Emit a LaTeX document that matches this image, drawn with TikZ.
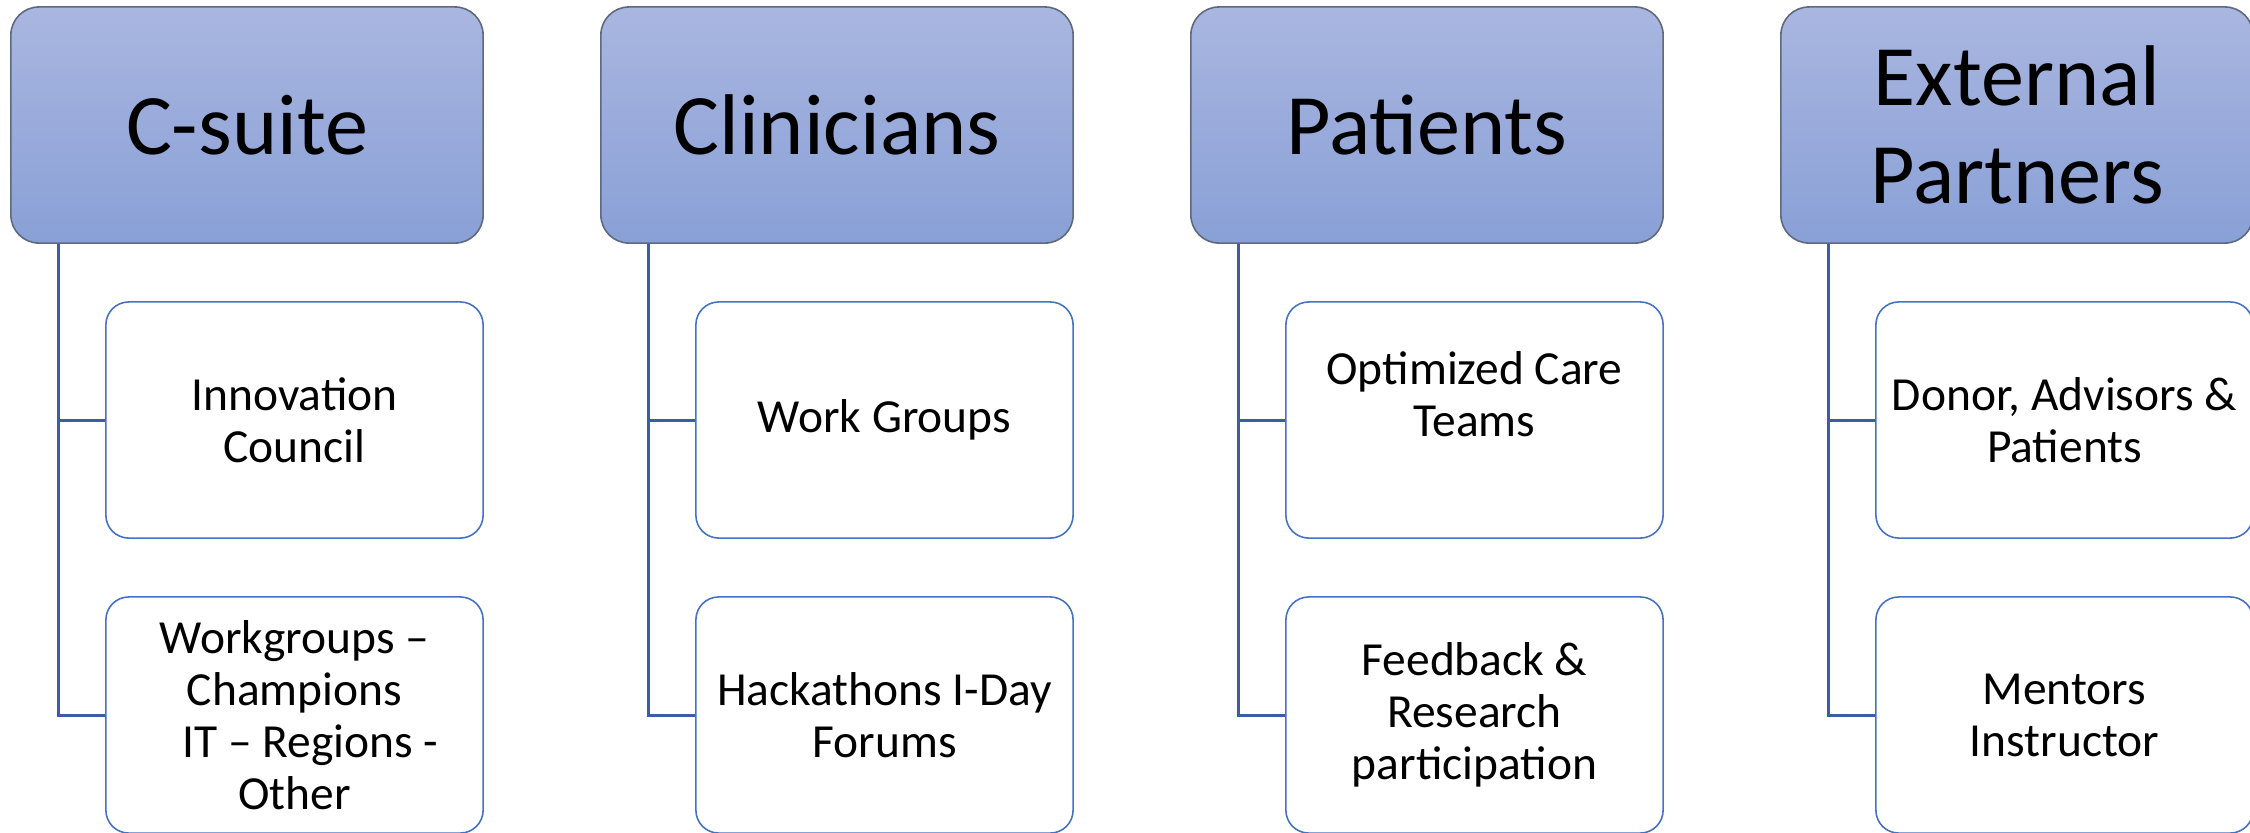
\documentclass[tikz,border=0pt]{standalone}
\usepackage{fontspec}
\setmainfont{Carlito}
\usepackage{tikz}
\usetikzlibrary{positioning, calc}

\definecolor{headtop}{RGB}{169,182,224}
\definecolor{headbot}{RGB}{137,160,214}
\definecolor{headline}{RGB}{95,105,125}
\definecolor{itemline}{RGB}{68,114,196}
\definecolor{linkline}{RGB}{59,94,163}

\begin{document}
\begin{tikzpicture}[x=0.01cm, y=-0.01cm,
  head/.style={rectangle, rounded corners=8pt, draw=headline, line width=0.45pt, top color=headtop, bottom color=headbot, minimum width=4.72cm, minimum height=2.36cm, align=center, font=\fontsize{24.5}{28}\selectfont},
  item/.style={rectangle, rounded corners=6.5pt, draw=itemline, line width=0.45pt, fill=white, minimum width=3.77cm, minimum height=2.36cm, align=center, font=\fontsize{13.5}{14.8}\selectfont},
  link/.style={draw=linkline, line width=0.85pt}]
  \useasboundingbox (0,0) rectangle (2250,832);
  \clip (0,0) rectangle (2250,832);

  \node (cs) [head] at (247,125) {C-suite};
  \node (cl) [head] at (837,125) {Clinicians};
  \node (pt) [head] at (1427,125) {Patients};
  \node (ep) [head] at (2017,125) {External\\Partners};

  \node (cs1) [item] at (294.5,420) {Innovation\\Council};
  \node (cs2) [item] at (294.5,715) {Workgroups –\\Champions\\\hspace*{9pt}IT – Regions -\\Other};
  \node (cl1) [item] at (884.5,420) {Work Groups};
  \node (cl2) [item] at (884.5,715) {Hackathons I-Day\\Forums};
  \node (pt1) [item] at (1474.5,420) {Optimized Care\\Teams\\\mbox{}};
  \node (pt2) [item] at (1474.5,715) {Feedback \&\\Research\\participation};
  \node (ep1) [item] at (2064.5,420) {Donor, Advisors \&\\Patients};
  \node (ep2) [item] at (2064.5,715) {Mentors\\Instructor};

  \draw [link] ($(cs.south west)+(48,0)$) |- (cs1.west);
  \draw [link] ($(cs.south west)+(48,0)$) |- (cs2.west);
  \draw [link] ($(cl.south west)+(48,0)$) |- (cl1.west);
  \draw [link] ($(cl.south west)+(48,0)$) |- (cl2.west);
  \draw [link] ($(pt.south west)+(48,0)$) |- (pt1.west);
  \draw [link] ($(pt.south west)+(48,0)$) |- (pt2.west);
  \draw [link] ($(ep.south west)+(48,0)$) |- (ep1.west);
  \draw [link] ($(ep.south west)+(48,0)$) |- (ep2.west);
\end{tikzpicture}
\end{document}
